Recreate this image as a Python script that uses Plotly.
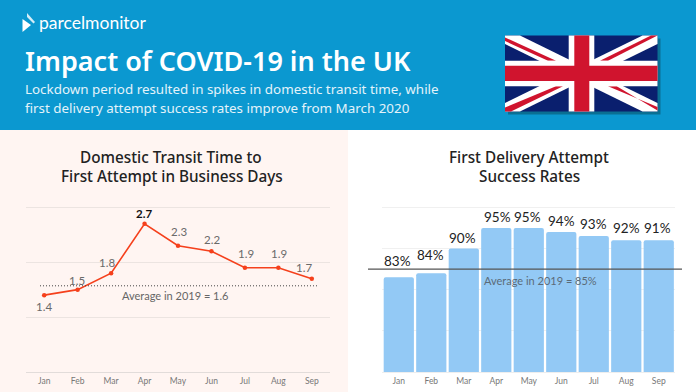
import plotly.graph_objects as go

months = ["Jan", "Feb", "Mar", "Apr", "May", "Jun", "Jul", "Aug", "Sep"]
transit_days = [1.4, 1.5, 1.8, 2.7, 2.3, 2.2, 1.9, 1.9, 1.7]
transit_labels = ["1.4", "1.5", "1.8", "2.7", "2.3", "2.2", "1.9", "1.9", "1.7"]
success_rates = [83, 84, 90, 95, 95, 94, 93, 92, 92]
success_labels = ["83%", "84%", "90%", "95%", "95%", "94%", "93%", "92%", "91%"]
avg_transit_position = 1.57
avg_success = 85

W, H = 696, 392
def X(p): return p / W
def Y(p): return 1 - p / H

def rect(x0, y0, x1, y1, color, line=None):
    return dict(type="rect", xref="paper", yref="paper", x0=X(x0), x1=X(x1), y0=Y(y0), y1=Y(y1),
                fillcolor=color, line=dict(width=0), layer="below")

def poly(points, color):
    d = "M " + " L ".join(f"{X(a):.5f},{Y(b):.5f}" for a, b in points) + " Z"
    return dict(type="path", xref="paper", yref="paper", path=d, fillcolor=color, line=dict(width=0), layer="below")

fx0, fx1, fy0, fy1 = 505, 657.5, 35.5, 111.5
NAVY, WHT, RED = "#0a1f6e", "#ffffff", "#d0142e"
shapes = [
    rect(0, 0, W, 130, "#0b98d0"),
    rect(0, 130, 348, H, "#fff5f2"),
    rect(348, 130, W, H, "#ffffff"),
    rect(fx0 + 3, fy0 + 3, fx1 + 3, fy1 + 3, "#0a6f93"),
    rect(fx0, fy0, fx1, fy1, NAVY),
    poly([(fx0, fy0), (fx0 + 15, fy0), (fx1, fy1 - 8.5), (fx1, fy1), (fx1 - 15, fy1), (fx0, fy0 + 8.5)], WHT),
    poly([(fx1, fy0), (fx1 - 15, fy0), (fx0, fy1 - 8.5), (fx0, fy1), (fx0 + 15, fy1), (fx1, fy0 + 8.5)], WHT),
    poly([(fx0, 37.5), (fx0, 41), (548, 60.7), (556, 60.7)], RED),
    poly([(fx1, fy0), (651, fy0), (600, 60.7), (608, 60.7)], RED),
    poly([(fx0, 107.5), (fx0, fy1), (511, fy1), (563, 86.3), (556, 86.3)], RED),
    poly([(fx1, 107), (fx1, 110.5), (616.7, 86.3), (608, 86.3)], RED),
    rect(568.7, fy0, 594.3, fy1, WHT),
    rect(fx0, 60.7, fx1, 86.3, WHT),
    rect(574.3, fy0, 589.3, fy1, RED),
    rect(fx0, 65.7, fx1, 81, RED),
    poly([(22.5, 19), (31, 25), (22.5, 32)], "#ffffff"),
    poly([(27, 13), (35, 22), (33.5, 23.5), (27, 17)], "#d5edf7"),
    dict(type="line", xref="paper", yref="y", x0=X(40), x1=X(318), y0=avg_transit_position, y1=avg_transit_position,
         line=dict(color="#444444", width=1, dash="1px,2px")),
    dict(type="line", xref="paper", yref="y2", x0=X(368), x1=X(682), y0=avg_success, y1=avg_success,
         line=dict(color="#555555", width=1.2)),
]

fig = go.Figure()
fig.add_trace(go.Scatter(x=months, y=transit_days, mode="lines+markers", xaxis="x", yaxis="y",
                         line=dict(color="#f5401c", width=1.6), marker=dict(color="#f5401c", size=4.5),
                         hoverinfo="skip", showlegend=False))
fig.add_trace(go.Bar(x=months, y=success_rates, xaxis="x2", yaxis="y2", marker=dict(color="#93c9f5", cornerradius=2, line=dict(width=0)),
                     hoverinfo="skip", showlegend=False))

def header(text, x, y, size, color="#ffffff", weight=400, family="Noto Sans"):
    return dict(text=text, xref="paper", yref="paper", x=X(x), y=Y(y), xanchor="left", yanchor="middle", showarrow=False,
                font=dict(family=family, size=size, color=color, weight=weight))

def center(text, x, y, size=15.3, color="#222222", weight=500):
    return dict(text=text, xref="paper", yref="paper", x=X(x), y=Y(y), xanchor="center", yanchor="middle", showarrow=False,
                font=dict(family="Noto Sans", size=size, color=color, weight=weight))

anns = [
    header("parcelmonitor", 37, 23, 17.5, family="Lato"),
    header("Impact of COVID-19 in the UK", 23, 60, 27, weight=600),
    header("Lockdown period resulted in spikes in domestic transit time, while", 23, 89, 13.4, color="#e3f3fa"),
    header("first delivery attempt success rates improve from March 2020", 23, 108, 13.4, color="#e3f3fa"),
    center("Domestic Transit Time to", 171, 157),
    center("First Attempt in Business Days", 172, 176),
    center("First Delivery Attempt", 529, 157),
    center("Success Rates", 529, 176),
]

transit_shift_x = [0, -1, -4, -1, 1, 1, 1, 1, -8]
transit_shift_y = [-11, 9, 11, 10, 14, 12, 14, 14, 11]
for i, (m, v, lab) in enumerate(zip(months, transit_days, transit_labels)):
    top = lab == "2.7"
    anns.append(dict(x=m, y=v, xref="x", yref="y", text=f"<b>{lab}</b>" if top else lab, showarrow=False,
                     xshift=transit_shift_x[i], yshift=transit_shift_y[i], xanchor="center", yanchor="middle",
                     font=dict(family="Lato", size=11.5, color="#111111" if top else "#6a6a6a")))

success_shift_x = [-1, -1, -1, 1, -1, 0, 0, 0, -1]
success_shift_y = [16, 18, 10, 11, 11, 11, 12, 12, 12]
for i, (m, v, lab) in enumerate(zip(months, success_rates, success_labels)):
    anns.append(dict(x=m, y=v, xref="x2", yref="y2", text=lab, showarrow=False,
                     xshift=success_shift_x[i], yshift=success_shift_y[i], xanchor="center", yanchor="middle",
                     font=dict(family="Lato", size=13.5, color="#222222")))

anns.append(dict(x=X(175), y=avg_transit_position, xref="paper", yref="y", text="Average in 2019 = 1.6", showarrow=False,
                 xanchor="center", yanchor="middle", yshift=-10, font=dict(family="Lato", size=11, color="#666666")))
anns.append(dict(x=X(540), y=avg_success, xref="paper", yref="y2", text="Average in 2019 = 85%", showarrow=False,
                 xanchor="center", yanchor="middle", yshift=-11, font=dict(family="Lato", size=11, color="#5b6b78")))

tickfont = dict(family="Lato", size=8.5, color="#777777")
fig.update_layout(
    width=W, height=H, margin=dict(l=0, r=0, t=0, b=0), paper_bgcolor="#ffffff", plot_bgcolor="rgba(0,0,0,0)",
    shapes=shapes, annotations=anns, bargap=0.07, showlegend=False,
    xaxis=dict(domain=[X(26), X(330)], anchor="y", showgrid=False, ticks="", tickfont=tickfont, ticklabelstandoff=1,
               showline=True, linecolor="#e2dcda", linewidth=1, fixedrange=True),
    yaxis=dict(domain=[Y(372), Y(205)], range=[0, 3 + 2.3 / 54.9], tickvals=[0, 1, 2, 3], showticklabels=False,
               gridcolor="#ece4e1", gridwidth=1, zeroline=False, fixedrange=True),
    xaxis2=dict(domain=[X(382.3), X(675)], anchor="y2", showgrid=False, ticks="", tickfont=tickfont, ticklabelstandoff=1,
                showline=True, linecolor="#eeeeee", linewidth=1, fixedrange=True),
    yaxis2=dict(domain=[Y(372), Y(205)], range=[60, 100 + 2.3 / 4.117], tickvals=[60, 70, 80, 90, 100], showticklabels=False,
                gridcolor="#f0f0f0", gridwidth=1, zeroline=False, fixedrange=True),
)
fig.write_html("out.html", config=dict(displayModeBar=False),
               post_script="document.body.style.margin='0';document.documentElement.style.overflow='hidden';")
